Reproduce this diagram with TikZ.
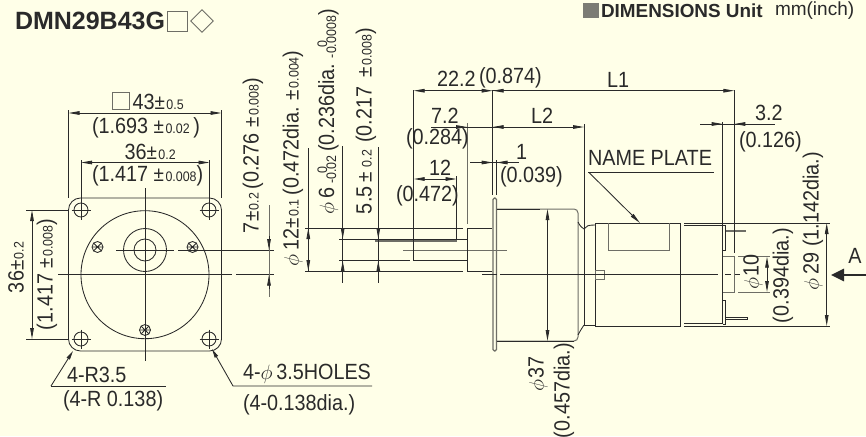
\documentclass[tikz,border=0pt]{standalone}
\usepackage{fontspec}
\usetikzlibrary{arrows.meta}
\setmainfont[FakeStretch=0.9]{Liberation Sans}
\newfontfamily\plainfont{Liberation Sans}
\definecolor{ink}{HTML}{2A2A2A}
\definecolor{paper}{HTML}{FFFFE8}
\definecolor{gline}{HTML}{6E6E66}
\newcommand\sm[1]{{\fontsize{13.8}{14}\selectfont #1}}
\newcommand\pmm{{\fontsize{21}{21}\selectfont ±}\kern1.5pt}
\newcommand\stk[2]{\rlap{\raisebox{7pt}{\sm{#1}}}\raisebox{-2pt}{\sm{#2}}}
\tikzset{
 x=1pt,y=-1pt,
 ln/.style={line width=0.85pt,draw=ink},
 gl/.style={line width=1pt,draw=gline},
 dim/.style={ln,{Stealth[length=11pt,width=3.6pt,inset=0pt]}-{Stealth[length=11pt,width=3.6pt,inset=0pt]}},
 oneway/.style={ln,-{Stealth[length=11pt,width=3.6pt,inset=0pt]}},
 lab/.style={inner sep=0pt,outer sep=0pt,text=ink,font=\fontsize{22}{23}\selectfont},
 vlab/.style={lab,rotate=90,anchor=west},
 hole/.pic={\draw[ln] (0,0) circle (7); \draw[ln] (-9.5,0)--(9.5,0) (0,-9.5)--(0,9.5);},
 screw/.pic={\draw[ln] (0,0) circle (5.5); \draw[ln] (-4,-4)--(4,4) (-4,4)--(4,-4) (-5.5,0)--(5.5,0);},
}
\begin{document}
\begin{tikzpicture}
\useasboundingbox (0,0) rectangle (866,436);
\fill[paper] (0,0) rectangle (866,436);
% titles
\node[lab,anchor=west,font=\plainfont\fontsize{25}{26}\bfseries] (title) at (15,21) {DMN29B43G};
\node[draw=gline,line width=0.9pt,minimum width=20pt,minimum height=20pt,inner sep=0pt] (tsq) at (177.5,21) {};
\node[draw=gline,line width=0.9pt,minimum width=16pt,minimum height=16pt,rotate=45,inner sep=0pt] (tdia) at (202,21) {};
\fill[gline!90] (583,3) rectangle (599,18);
\node[lab,anchor=west,font=\plainfont\fontsize{18.9}{20}\bfseries] (dimt) at (601,10.5) {DIMENSIONS Unit};
\node[lab,anchor=west,font=\plainfont\fontsize{19}{20}\selectfont] (unit) at (775,10.5) {mm(inch)};
% front view
\draw[ln,rounded corners=12pt] (68.5,198) rectangle (221.5,351);
\draw[ln] (145,274.7) circle (64);
\draw[ln] (145,250) circle (21.5) (145,250) circle (11);
\pic at (81,210) {hole}; \pic at (209,210) {hole}; \pic at (81,339) {hole}; \pic at (209,339) {hole};
\pic at (97.5,247) {screw}; \pic at (192.5,247) {screw}; \pic at (145,330) {screw};
\draw[ln] (145,188)--(145,361);
\draw[ln] (58,274.7)--(232,274.7) (236,274.7)--(274,274.7);
\draw[ln] (116,250)--(174,250) (178,250)--(274,250);
\draw[gl] (269,205)--(269,297);
\draw[oneway] (269,236)--(269,250); \draw[oneway] (269,289)--(269,274.7);
% top dims front
\draw[ln] (68.5,110)--(68.5,198) (221.5,110)--(221.5,198) (81,160)--(81,210) (209.5,160)--(209.5,210);
\draw[dim] (68.5,113)--(221.5,113);
\draw[dim] (81,162.5)--(209.5,162.5);
\draw[gl,line width=.9pt] (112,92) rectangle (129,109);
\node[lab,anchor=west] (a43) at (132.5,101.5) {43\pmm\sm{0.5}};
\node[lab,anchor=west] (a1693) at (92,128) {(1.693 \pmm\sm{0.02}\,)};
\node[lab,anchor=west] (a36) at (124.5,152) {36\pmm\sm{0.2}};
\node[lab,anchor=west] (a1417) at (92,176) {(1.417 \pmm\sm{0.008})};
% left dim
\draw[ln] (26,210)--(68.5,210) (26,339)--(68.5,339);
\draw[dim] (32,210)--(32,339);
\node[vlab] (l36) at (16,293) {36\pmm\sm{0.2}};
\node[vlab] (l1417) at (47,330) {(1.417 \pmm\sm{0.008})};
% leaders
\coordinate (la) at (73,351); \coordinate (lb) at (212,349);
\draw[ln] (51,386)--(166,386);
\draw[ln,{Stealth[length=9pt,width=3.6pt,inset=0pt]}-] (la)--(51,386);
\draw[ln,{Stealth[length=9pt,width=3.6pt,inset=0pt]}-] (lb)--(233,386)--(372,386);
\node[lab,anchor=west] (r35) at (67,375) {4-R3.5};
\node[lab,anchor=west] (r138) at (63,401) {(4-R 0.138)};
\node[lab,anchor=west] (h35) at (243,374) {4-$\phi$\,3.5HOLES};
\node[lab,anchor=west] (h138) at (243,405) {(4-0.138dia.)};
% rotated dims
\node[vlab] (d7) at (253,233) {7\pmm\sm{0.2}\,(0.276 \pmm\sm{0.008})};
\node[vlab] (d12) at (293,266) {$\phi$\,12\pmm\sm{0.1}\,(0.472dia. \pmm\sm{0.004})};
\node[vlab] (d6) at (328,214) {$\phi$\,6\,\stk{\ \ \ 0}{-0.02}\,(0.236dia.\ \stk{\ \ \ 0}{-0.0008})};
\node[vlab] (d55) at (366,214) {5.5\,\pmm\,\sm{0.2}\,\,(0.217 \,\pmm\sm{0.008})};
% side view: shaft
\draw[ln] (305,228)--(463,228) (467,228)--(492,228);
\draw[ln] (305,271)--(463,271);
\draw[ln] (339,239)--(467,239);
\draw[gl,line width=1.6pt] (375,240.7)--(457,240.7);
\draw[ln] (339,260.5)--(410,260.5) (413.7,260.5)--(467,260.5);
\draw[gl] (403,250)--(507,250);
\draw[ln] (308.3,148)--(308.3,271);
\draw[dim] (308.3,228)--(308.3,271);
\draw[ln] (342.7,146)--(342.7,283) (378.3,147)--(378.3,283);
\draw[oneway] (342.7,228)--(342.7,239); \draw[oneway] (342.7,271.5)--(342.7,260.5);
\draw[oneway] (378.3,228)--(378.3,239); \draw[oneway] (378.3,271.5)--(378.3,260.5);
\draw[ln] (413.7,90)--(413.7,260.5);
\draw[ln] (456.5,176)--(456.5,239);
\draw[gl] (467,123)--(467,224);
\draw[ln] (467,228)--(467,271)--(492,271);
% flange & body
\draw[gl,line width=1.1pt,rounded corners=1.5pt] (493,198) rectangle (496.5,351);
\draw[ln,line width=1.1pt] (492.7,90)--(492.7,195);
\draw[ln] (496.5,160)--(496.5,195);
\draw[gl,rounded corners=4pt] (496.5,209)--(578,209)--(578,341)--(496.5,341);
\draw[ln] (496.5,341)--(574,341) (496.5,209)--(540,209);
\draw[ln] (578,222) .. controls (580,226) and (582,228) .. (584,229);
\draw[ln] (578,335) .. controls (580,331) and (582,328) .. (584,325);
\draw[ln] (584,124)--(584,325);
\draw[ln] (584,229) .. controls (586,226) and (588,225) .. (595,225);
\draw[ln] (584,325)--(595,325);
\draw[gl] (595,225)--(595,326);
\draw[ln] (595,223) rectangle (680,326);
\draw[gl] (608,223)--(608,250)--(669,250)--(669,223);
\draw[gl] (595,270) rectangle (604,279);
\draw[ln] (482,274.7)--(497,274.7) (500,274.7)--(718,274.7) (725,274.7)--(731,274.7) (734,274.7)--(740,274.7);
% rear
\draw[ln] (684,223)--(830,223) (684,326)--(830,326);
\draw[ln,line width=1.3pt] (684,225.5)--(722.7,225.5) (684,323.5)--(722.7,323.5);
\draw[ln] (722.7,122)--(722.7,323.5);
\draw[ln] (722.7,225)--(725.5,225)--(725.5,250)--(722.7,250);
\draw[ln] (722.7,300)--(725.5,300)--(725.5,324)--(722.7,324);
\draw[gl,line width=2pt] (725.5,231)--(746,231);
\draw[ln] (725.5,317)--(747,317)--(747,319.5)--(725.5,319.5);
\draw[gl] (722.7,256.7)--(734.5,256.7)--(734.5,292)--(722.7,292);
\draw[ln] (734.3,90)--(734.3,253);
\draw[gl] (738,256.7)--(770,256.7) (738,292)--(770,292);
\draw[dim] (767,256.7)--(767,292);
\draw[dim] (826.7,223)--(826.7,326);
\node[vlab] (p10) at (753,289) {$\phi$10};
\node[vlab] (p394) at (783,323) {(0.394dia.)};
\node[vlab] (p29) at (813,290) {$\phi$\,29 (1.142dia.)};
% arrow A
\coordinate (aend) at (866,275); \coordinate (atip) at (831,275);
\draw[ink,line width=2.6pt,-{Stealth[length=13pt,width=12pt,inset=0pt]}] (aend)--(atip);
\node[lab] (A) at (855,256) {A};
% dims top side
\draw[dim] (413.7,90.7)--(492.7,90.7);
\draw[oneway] (504,90.7)--(492.7,90.7);
\draw[oneway] (492.7,90.7)--(734.3,90.7);
\draw[ln] (431,127)--(467,127);
\draw[oneway] (452,127)--(467,127);
\draw[ln] (467,127)--(492.7,127);
\draw[oneway] (507,127)--(492.7,127);
\draw[oneway] (492.7,127)--(584,127);
\draw[dim] (413.7,179)--(456.5,179);
\draw[ln] (470,162.5)--(519,162.5);
\draw[oneway] (480,162.5)--(492.7,162.5);
\draw[oneway] (509,162.5)--(496.5,162.5);
\draw[ln] (700,124)--(775,124);
\draw[oneway] (710,124)--(722.7,124);
\draw[oneway] (747,124)--(734.3,124);
\node[lab,anchor=west] (t222) at (437,79) {22.2};
\node[lab,anchor=west] (t874) at (479,78) {(0.874)};
\node[lab,anchor=west] (tl1) at (607,80) {L1};
\node[lab,anchor=west] (t72) at (431,116) {7.2};
\node[lab,anchor=west] (t284) at (406,139) {(0.284)};
\node[lab,anchor=west] (tl2) at (531,116) {L2};
\node[lab,anchor=west] (t1) at (516,152) {1};
\node[lab,anchor=west] (t039) at (500,177) {(0.039)};
\node[lab,anchor=west] (t12) at (429,168) {12};
\node[lab,anchor=west] (t472) at (396,196) {(0.472)};
\node[lab,anchor=west] (t32) at (755,113) {3.2};
\node[lab,anchor=west] (t126) at (739,142) {(0.126)};
\node[lab,anchor=west] (tname) at (588,158) {NAME PLATE};
\draw[ln] (588,172.5)--(714,172.5);
\coordinate (np) at (640,223);
\draw[ln,-{Stealth[length=11pt,width=3.6pt,inset=0pt]}] (589,172.5)--(np);
% phi37
\draw[dim] (547.5,209)--(547.5,341);
\node[vlab] (p37) at (538,391) {$\phi$37};
\node[vlab] (p457) at (564,438) {(0.457dia.)};
\end{tikzpicture}
\end{document}
